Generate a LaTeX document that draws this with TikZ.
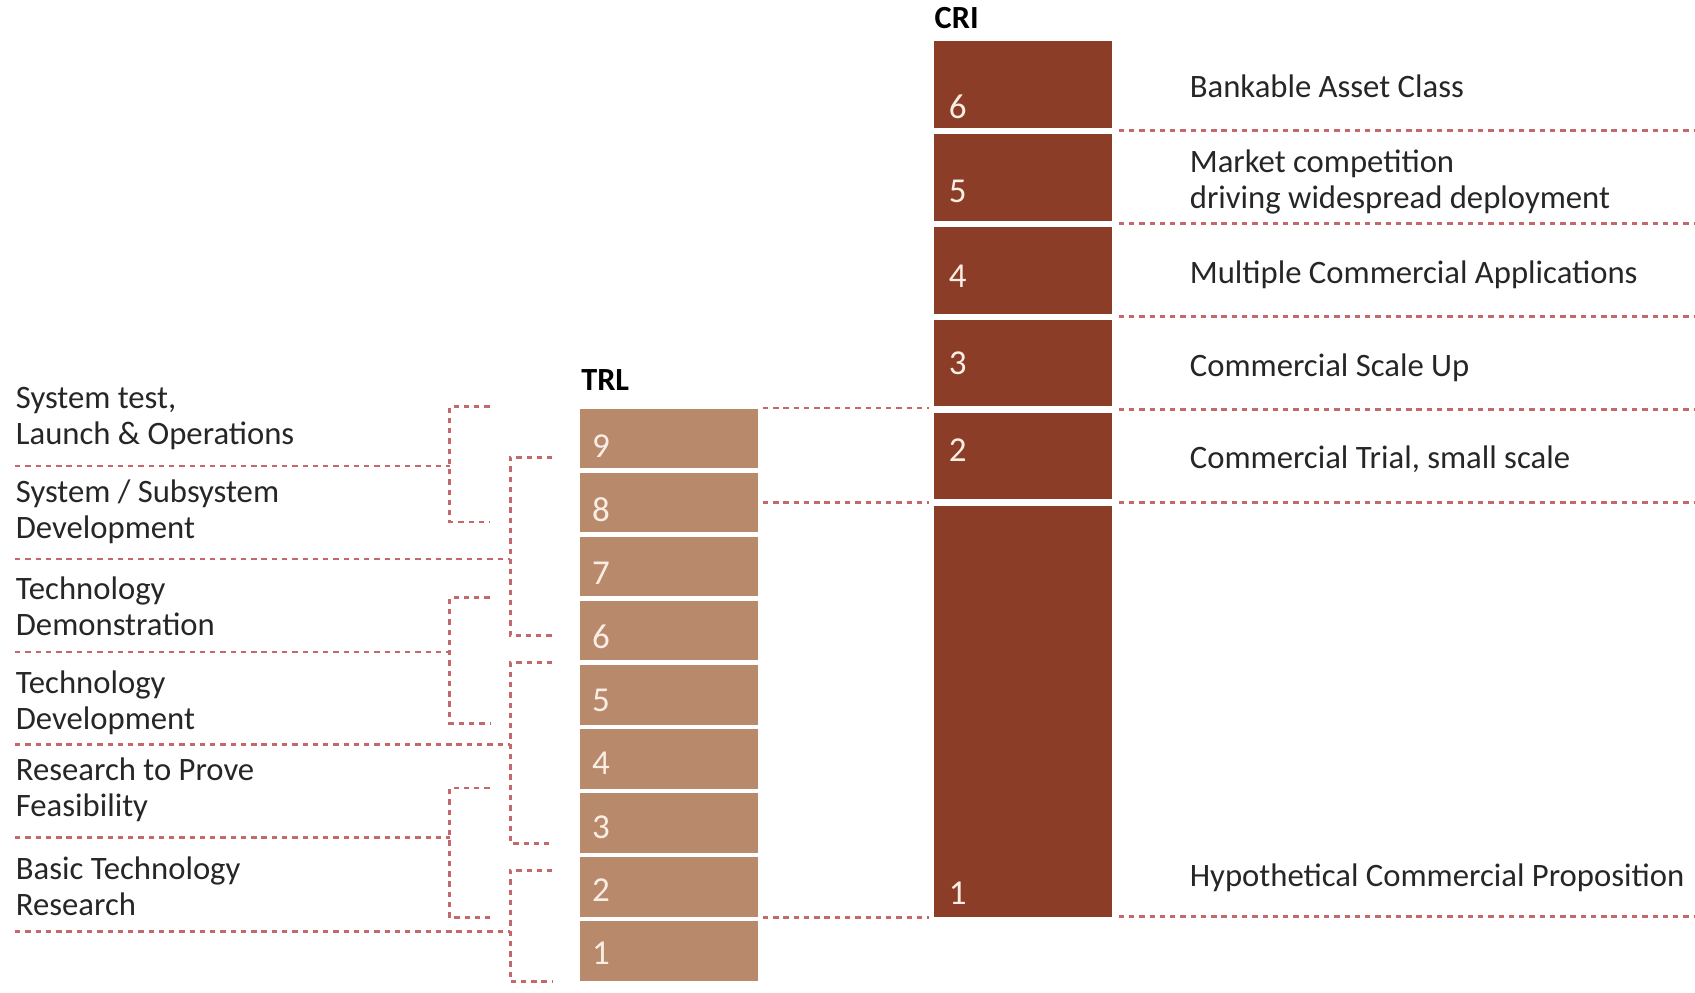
\documentclass[tikz,border=0pt]{standalone}
\usepackage{fontspec}
\setmainfont{Carlito}
\usetikzlibrary{calc}

\definecolor{crired}{RGB}{140,61,39}
\definecolor{trltan}{RGB}{185,137,108}
\definecolor{dashred}{RGB}{196,104,108}
\definecolor{numwhite}{RGB}{250,238,228}
\definecolor{labgray}{RGB}{38,38,38}

\begin{document}
\begin{tikzpicture}[x=0.01cm, y=-0.01cm,
    trl/.style={fill=trltan, minimum width=1.64cm, minimum height=0.55cm, inner sep=0pt},
    cri/.style={fill=crired, minimum width=1.65cm, minimum height=0.8cm, inner sep=0pt},
    num/.style={text=numwhite, font=\fontsize{9.2}{10}\selectfont, inner sep=0pt},
    lab/.style={text=labgray, font=\fontsize{8.6}{9.4}\selectfont, align=left, anchor=base west, inner sep=0pt},
    ttl/.style={text=black, font=\fontsize{8.5}{10}\selectfont\bfseries, anchor=base west, inner sep=0pt},
    sep/.style={draw=dashred, line width=0.7pt, dash pattern=on 1.4pt off 1.3pt}]
    \useasboundingbox (0,0) rectangle (1568,918.6);

    % TRL column
    \foreach \k in {1,...,9} {
        \node[trl] (t\k) at (619, {405.5+(9-\k)*59.3}) {};
        \node[num] (tn\k) at (556, {413+(9-\k)*58.65}) {\k};
    }
    \node[ttl] (trlttl) at (537,361) {TRL};

    % CRI column
    \foreach \k/\yt/\yn in {6/38/98.5, 5/124/177, 4/210/256, 3/296/336, 2/382/416} {
        \node[cri] (c\k) at (946.5, \yt+40) {};
        \node[num] (cn\k) at (886, \yn) {\k};
    }
    \node[cri, minimum height=3.8cm] (c1) at (946.5,658) {};
    \node[num] (cn1) at (886,826) {1};
    \node[ttl] (crittl) at (864,26.5) {CRI};

    % CRI labels
    \node[lab] (r6) at (1100,90) {Bankable Asset Class};
    \node[lab] (r5) at (1100,193) {Market competition\\driving widespread deployment};
    \node[lab] (r4) at (1100,262) {Multiple Commercial Applications};
    \node[lab] (r3) at (1100,348) {Commercial Scale Up};
    \node[lab] (r2) at (1100,433) {Commercial Trial, small scale};
    \node[lab] (r1) at (1100,820) {Hypothetical Commercial Proposition};

    % TRL labels
    \node[lab] (l1) at (14,411) {System test,\\Launch \& Operations};
    \node[lab] (l2) at (14,498) {System / Subsystem\\Development};
    \node[lab] (l3) at (14,588) {Technology\\Demonstration};
    \node[lab] (l4) at (14,675) {Technology\\Development};
    \node[lab] (l5) at (14,755) {Research to Prove\\Feasibility};
    \node[lab] (l6) at (14,847) {Basic Technology\\Research};

    % Dashed separators right of CRI
    \foreach \y in {121,207,293,379,465,848}
        \draw[sep] (1035,\y) -- (1568,\y);

    % Dashed links between the columns
    \draw[sep] ([shift={(4,0)}]t9.north east) -- ([shift={(-4,0)}]t9.north east -| c1.west);
    \draw[sep] ([shift={(4,0)}]t8.east) -- ([shift={(-4,0)}]t8.east -| c1.west);
    \draw[sep] ([shift={(4,0)}]t2.south east) -- ([shift={(-4,0)}]t2.south east -| c1.west);

    % Dashed separators and brackets left of TRL
    \foreach \y/\x in {431/416, 517/472, 603/416, 689/472, 775/416, 862/472}
        \draw[sep] (14,\y) -- (\x,\y);
    \foreach \x/\a/\b/\e in {416/376/483/453, 416/553/669/453, 416/729/849/453,
                             472/423/588/511, 472/613/780/511, 472/805/908/511}
        \draw[sep] (\e,\a) -- (\x,\a) -- (\x,\b) -- (\e,\b);
\end{tikzpicture}
\end{document}
